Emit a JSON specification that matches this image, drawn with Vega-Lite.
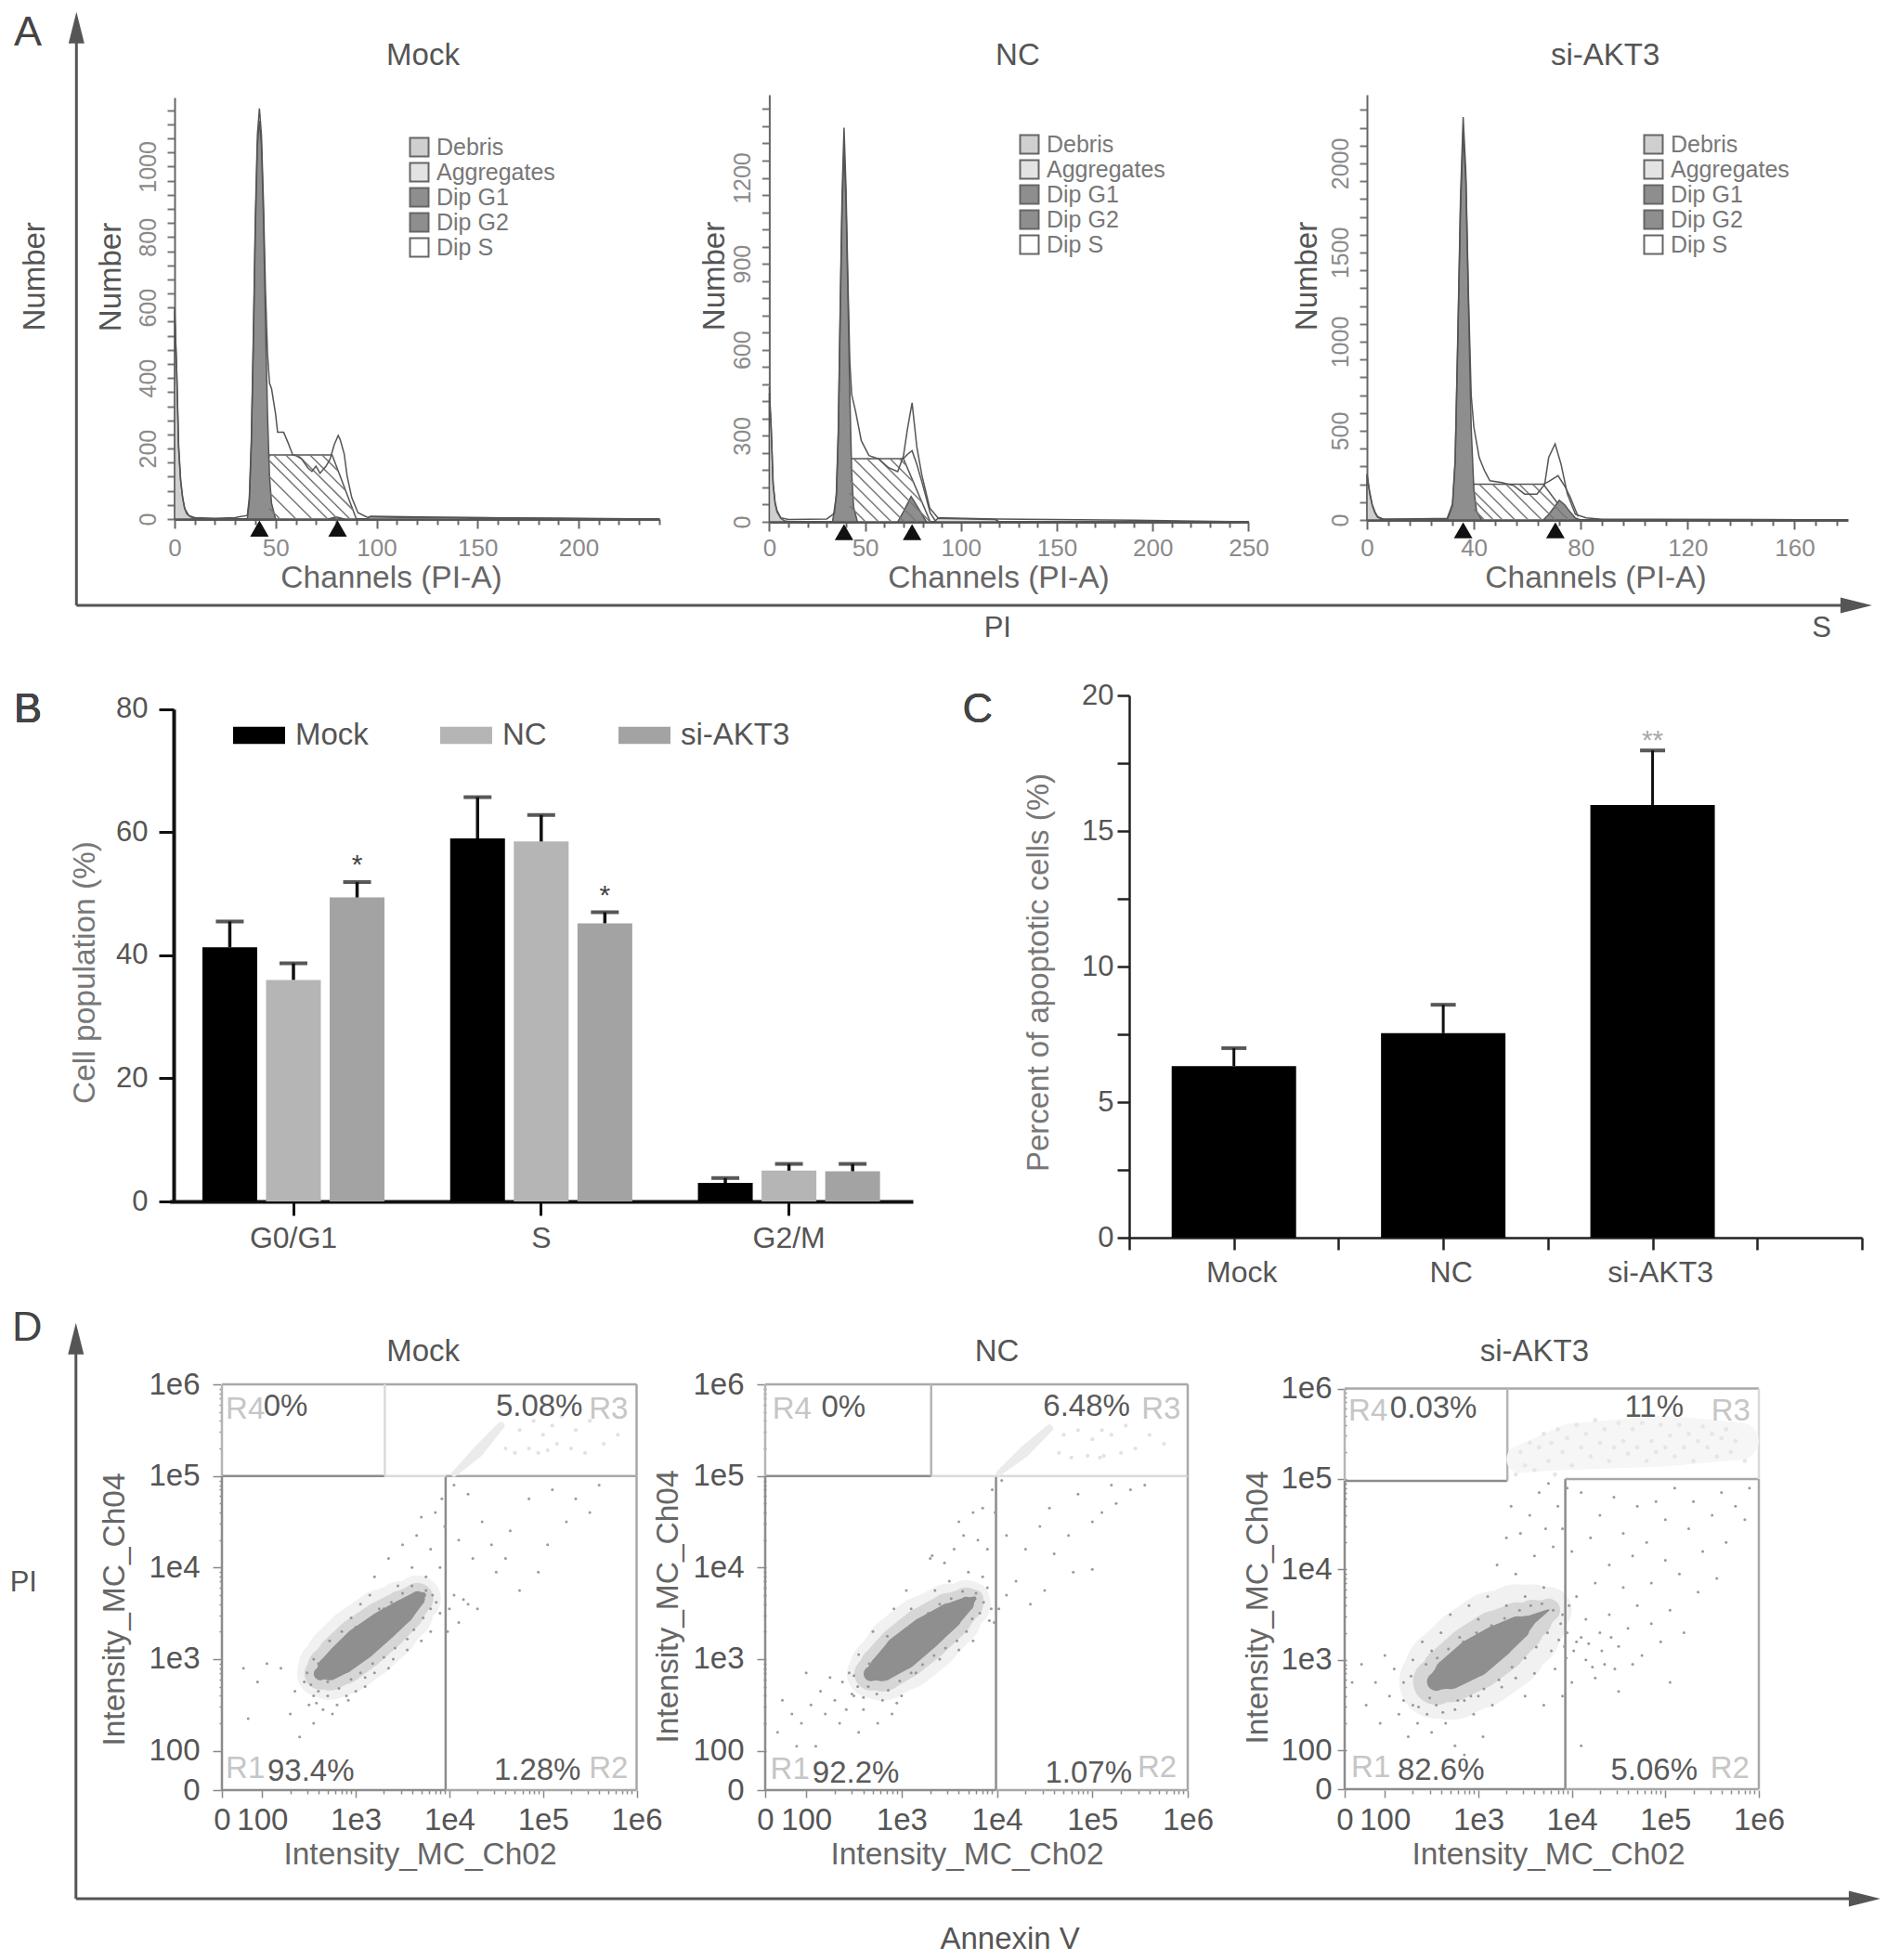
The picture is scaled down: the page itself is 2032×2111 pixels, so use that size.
{"$schema":"https://vega.github.io/schema/vega-lite/v6.json","background":"white","padding":0,"columns":3,"align":"none","bounds":"flush","spacing":0,"resolve":{"scale":{"color":"independent","size":"independent"},"legend":{"color":"independent","size":"independent"}},"config":{"view":{"stroke":null},"font":"Liberation Sans","axis":{"grid":false,"labelFont":"Liberation Sans","titleFont":"Liberation Sans","labelFlush":false,"labelBound":false},"legend":{"labelFont":"Liberation Sans"}},"concat":[
{"width":825,"height":559,"data":{"values":[{"annotation":"A"}]},"layer":[
{"data":{"values":[{"channel":37,"number":0,"population":"Dip S"},{"channel":47,"number":182,"population":"Dip S"},{"channel":78,"number":182,"population":"Dip S"},{"channel":90,"number":0,"population":"Dip S"},{"channel":76,"number":0,"population":"Dip G2"},{"channel":80,"number":6,"population":"Dip G2"},{"channel":84,"number":0,"population":"Dip G2"},{"channel":0,"number":590,"population":"Debris"},{"channel":1,"number":430,"population":"Debris"},{"channel":2,"number":200,"population":"Debris"},{"channel":3,"number":110,"population":"Debris"},{"channel":4,"number":60,"population":"Debris"},{"channel":5,"number":30,"population":"Debris"},{"channel":6,"number":15,"population":"Debris"},{"channel":8,"number":6,"population":"Debris"},{"channel":12,"number":0,"population":"Debris"},{"channel":95,"number":0,"population":"Aggregates"},{"channel":97,"number":8,"population":"Aggregates"},{"channel":130,"number":5,"population":"Aggregates"},{"channel":180,"number":2,"population":"Aggregates"},{"channel":220,"number":0,"population":"Aggregates"},{"channel":36,"number":0,"population":"Dip G1"},{"channel":37,"number":50,"population":"Dip G1"},{"channel":38,"number":210,"population":"Dip G1"},{"channel":39,"number":500,"population":"Dip G1"},{"channel":40,"number":830,"population":"Dip G1"},{"channel":41,"number":1060,"population":"Dip G1"},{"channel":42,"number":1130,"population":"Dip G1"},{"channel":43,"number":1060,"population":"Dip G1"},{"channel":44,"number":860,"population":"Dip G1"},{"channel":45,"number":560,"population":"Dip G1"},{"channel":46,"number":300,"population":"Dip G1"},{"channel":47,"number":120,"population":"Dip G1"},{"channel":48,"number":45,"population":"Dip G1"},{"channel":50,"number":0,"population":"Dip G1"}]},"mark":{"type":"area","stroke":"#555","strokeWidth":1.5},"encoding":{"x":{"field":"channel","type":"quantitative","scale":{"domain":[0,240],"range":[188,710],"nice":false,"zero":false},"axis":{"labelOverlap":false,"tickCount":200,"format":"d","values":[0,10,20,30,40,50,60,70,80,90,100,110,120,130,140,150,160,170,180,190,200,210,220,230,240],"labelExpr":"datum.value%50==0&&datum.value<=200?datum.label:''","tickSize":{"condition":{"test":"datum.value%50==0","value":10},"value":6},"tickColor":"#666","tickWidth":2,"domainColor":"#555","domainWidth":3,"labelFontSize":26,"labelColor":"#8a8a8a","labelPadding":8,"title":"Channels (PI-A)","titleFontSize":33.5,"titleFontWeight":"normal","titleColor":"#666","titleX":421,"titleY":63,"titleAlign":"center","titleBaseline":"middle"}},"y":{"field":"number","type":"quantitative","stack":null,"scale":{"domain":[0,1196],"range":[559,105],"nice":false,"zero":false},"axis":{"labelOverlap":false,"tickCount":200,"format":"d","offset":-188,"values":[0,40,80,120,160,200,240,280,320,360,400,440,480,520,560,600,640,680,720,760,800,840,880,920,960,1000,1040,1080,1120,1160],"labelExpr":"datum.value%200==0&&datum.value<=1000?datum.label:''","tickSize":8,"tickColor":"#777","tickWidth":2,"domainColor":"#666","domainWidth":2,"labelFontSize":25,"labelColor":"#8a8a8a","labelAngle":270,"labelAlign":"center","labelBaseline":"bottom","labelPadding":8,"title":"Number","titleFontSize":33,"titleFontWeight":"normal","titleColor":"#555","titleX":-69,"titleY":298,"titleAlign":"center","titleBaseline":"middle","titleAngle":270}},"color":{"field":"population","type":"nominal","scale":{"domain":["Debris","Aggregates","Dip G1","Dip G2","Dip S"],"range":["#cfcfcf","#e3e3e3","#8e8e8e","#8e8e8e","#ffffff"]},"legend":{"orient":"none","legendX":439,"legendY":146,"title":null,"symbolType":"square","symbolSize":400,"symbolStrokeColor":"#666","symbolStrokeWidth":2,"labelFontSize":21,"labelColor":"#777","rowPadding":-11.5,"labelOffset":6,"encode":{"labels":{"update":{"fontSize":{"value":25}}}}}}}},
{"data":{"values":[{"channel":47,"number":165,"channelEnd":75.8,"numberEnd":0},{"channel":47,"number":120,"channelEnd":68,"numberEnd":0},{"channel":47,"number":75,"channelEnd":60.1,"numberEnd":0},{"channel":47,"number":30,"channelEnd":52.2,"numberEnd":0},{"channel":49,"number":182,"channelEnd":80.8,"numberEnd":0},{"channel":55,"number":182,"channelEnd":86.8,"numberEnd":0},{"channel":61,"number":182,"channelEnd":88.3,"numberEnd":26},{"channel":67,"number":182,"channelEnd":84.6,"numberEnd":81},{"channel":73,"number":182,"channelEnd":81,"numberEnd":136}]},"mark":{"type":"rule","stroke":"#777","strokeWidth":1.5},"encoding":{"x":{"field":"channel","type":"quantitative"},"y":{"field":"number","type":"quantitative"},"x2":{"field":"channelEnd"},"y2":{"field":"numberEnd"}}},
{"data":{"values":[{"channel":0,"number":600},{"channel":1,"number":430},{"channel":2,"number":210},{"channel":3,"number":110},{"channel":4,"number":60},{"channel":5,"number":30},{"channel":7,"number":10},{"channel":10,"number":4},{"channel":20,"number":2},{"channel":30,"number":4},{"channel":36,"number":10},{"channel":37,"number":60},{"channel":38,"number":225},{"channel":39,"number":520},{"channel":40,"number":860},{"channel":41,"number":1090},{"channel":42,"number":1165},{"channel":43,"number":1090},{"channel":44,"number":900},{"channel":45,"number":650},{"channel":46,"number":470},{"channel":47,"number":385},{"channel":48,"number":370},{"channel":50,"number":298},{"channel":51,"number":246},{"channel":54,"number":246},{"channel":56,"number":219},{"channel":58.5,"number":182},{"channel":60,"number":180},{"channel":63,"number":170},{"channel":66,"number":145},{"channel":68,"number":135},{"channel":70,"number":150},{"channel":72,"number":130},{"channel":75,"number":150},{"channel":77,"number":170},{"channel":79,"number":210},{"channel":81,"number":237},{"channel":82,"number":225},{"channel":84,"number":184},{"channel":85.4,"number":123},{"channel":87.7,"number":61},{"channel":90.8,"number":18},{"channel":95,"number":6},{"channel":120,"number":4},{"channel":150,"number":4},{"channel":200,"number":2},{"channel":240,"number":0}]},"mark":{"type":"line","stroke":"#555","strokeWidth":1.5},"encoding":{"x":{"field":"channel","type":"quantitative"},"y":{"field":"number","type":"quantitative"}}},
{"data":{"values":[{"channel":42},{"channel":80.7}]},"mark":{"type":"point","shape":"triangle-up","filled":true,"size":400,"color":"#111","opacity":1},"encoding":{"x":{"field":"channel","type":"quantitative"},"y":{"datum":-27}}},
{"mark":{"type":"rule","stroke":"#555","strokeWidth":3},"encoding":{"x":{"datum":-48.6},"y":{"datum":-245},"y2":{"datum":1394}}},
{"mark":{"type":"rule","stroke":"#555","strokeWidth":3},"encoding":{"x":{"datum":-48.6},"x2":{"datum":832},"y":{"datum":-245}}},
{"mark":{"type":"point","shape":"M0,-1L-0.5,1L0.5,1Z","filled":true,"size":1156,"color":"#555","opacity":1},"encoding":{"x":{"datum":-48.6},"y":{"datum":1394}}},
{"mark":{"type":"point","shape":"M1,0L-1,-0.5L-1,0.5Z","filled":true,"size":1156,"color":"#555","opacity":1},"encoding":{"x":{"datum":832.6},"y":{"datum":-245}}},
{"mark":{"type":"text","text":"A","fontSize":45,"color":"#444"},"encoding":{"x":{"datum":-72.6},"y":{"datum":1380}}},
{"mark":{"type":"text","text":"Number","fontSize":33,"color":"#555","angle":270},"encoding":{"x":{"datum":-68.8},"y":{"datum":688}}},
{"mark":{"type":"text","text":"Mock","fontSize":33,"color":"#555"},"encoding":{"x":{"datum":123},"y":{"datum":1314}}},
{"mark":{"type":"text","text":"PI","fontSize":31,"color":"#555"},"encoding":{"x":{"datum":407.5},"y":{"datum":-312}}},
{"mark":{"type":"text","text":"S","fontSize":31,"color":"#555"},"encoding":{"x":{"datum":815.5},"y":{"datum":-312}}}
]},
{"width":625,"height":562,"data":{"values":[{"annotation":"NC"}]},"layer":[
{"data":{"values":[{"channel":33,"number":0,"population":"Dip S"},{"channel":42,"number":220,"population":"Dip S"},{"channel":70,"number":220,"population":"Dip S"},{"channel":84,"number":0,"population":"Dip S"},{"channel":67,"number":0,"population":"Dip G2"},{"channel":70,"number":35,"population":"Dip G2"},{"channel":74,"number":88,"population":"Dip G2"},{"channel":78,"number":45,"population":"Dip G2"},{"channel":82,"number":0,"population":"Dip G2"},{"channel":0,"number":450,"population":"Debris"},{"channel":1,"number":320,"population":"Debris"},{"channel":2,"number":130,"population":"Debris"},{"channel":3,"number":65,"population":"Debris"},{"channel":4,"number":35,"population":"Debris"},{"channel":6,"number":12,"population":"Debris"},{"channel":8,"number":3,"population":"Debris"},{"channel":11,"number":0,"population":"Debris"},{"channel":86,"number":0,"population":"Aggregates"},{"channel":88,"number":12,"population":"Aggregates"},{"channel":118,"number":8,"population":"Aggregates"},{"channel":120,"number":0,"population":"Aggregates"},{"channel":33,"number":0,"population":"Dip G1"},{"channel":35,"number":90,"population":"Dip G1"},{"channel":36,"number":300,"population":"Dip G1"},{"channel":37,"number":720,"population":"Dip G1"},{"channel":38,"number":1100,"population":"Dip G1"},{"channel":39,"number":1300,"population":"Dip G1"},{"channel":40,"number":1120,"population":"Dip G1"},{"channel":41,"number":800,"population":"Dip G1"},{"channel":42,"number":450,"population":"Dip G1"},{"channel":43,"number":170,"population":"Dip G1"},{"channel":44,"number":50,"population":"Dip G1"},{"channel":46,"number":0,"population":"Dip G1"}]},"mark":{"type":"area","stroke":"#555","strokeWidth":1.5},"encoding":{"x":{"field":"channel","type":"quantitative","scale":{"domain":[0,250],"range":[3.4,519.4],"nice":false,"zero":false},"axis":{"labelOverlap":false,"tickCount":200,"format":"d","values":[0,10,20,30,40,50,60,70,80,90,100,110,120,130,140,150,160,170,180,190,200,210,220,230,240,250],"labelExpr":"datum.value%50==0?datum.label:''","tickSize":{"condition":{"test":"datum.value%50==0","value":10},"value":6},"tickColor":"#666","tickWidth":2,"domainColor":"#555","domainWidth":3,"labelFontSize":26,"labelColor":"#8a8a8a","labelPadding":5,"title":"Channels (PI-A)","titleFontSize":33.5,"titleFontWeight":"normal","titleColor":"#666","titleX":250,"titleY":60,"titleAlign":"center","titleBaseline":"middle"}},"y":{"field":"number","type":"quantitative","stack":null,"scale":{"domain":[0,1490],"range":[562,102],"nice":false,"zero":false},"axis":{"labelOverlap":false,"tickCount":200,"format":"d","offset":-3.4,"values":[0,60,120,180,240,300,360,420,480,540,600,660,720,780,840,900,960,1020,1080,1140,1200,1260,1320,1380,1440],"labelExpr":"datum.value%300==0?datum.label:''","tickSize":8,"tickColor":"#777","tickWidth":2,"domainColor":"#666","domainWidth":2,"labelFontSize":25,"labelColor":"#8a8a8a","labelAngle":270,"labelAlign":"center","labelBaseline":"bottom","labelPadding":8,"title":"Number","titleFontSize":33,"titleFontWeight":"normal","titleColor":"#555","titleX":-59,"titleY":297,"titleAlign":"center","titleBaseline":"middle","titleAngle":270}},"color":{"field":"population","type":"nominal","scale":{"domain":["Debris","Aggregates","Dip G1","Dip G2","Dip S"],"range":["#cfcfcf","#e3e3e3","#8e8e8e","#8e8e8e","#ffffff"]},"legend":{"orient":"none","legendX":271,"legendY":143,"title":null,"symbolType":"square","symbolSize":400,"symbolStrokeColor":"#666","symbolStrokeWidth":2,"labelFontSize":21,"labelColor":"#777","rowPadding":-11.5,"labelOffset":6,"encode":{"labels":{"update":{"fontSize":{"value":25}}}}}}}},
{"data":{"values":[{"channel":42,"number":190,"channelEnd":70.4,"numberEnd":0},{"channel":42,"number":145,"channelEnd":63.7,"numberEnd":0},{"channel":42,"number":100,"channelEnd":57,"numberEnd":0},{"channel":42,"number":55,"channelEnd":50.2,"numberEnd":0},{"channel":44,"number":220,"channelEnd":76.9,"numberEnd":0},{"channel":51,"number":220,"channelEnd":83.9,"numberEnd":0},{"channel":57,"number":220,"channelEnd":79.6,"numberEnd":69},{"channel":63,"number":220,"channelEnd":75.1,"numberEnd":139},{"channel":68,"number":220,"channelEnd":71.4,"numberEnd":197}]},"mark":{"type":"rule","stroke":"#777","strokeWidth":1.5},"encoding":{"x":{"field":"channel","type":"quantitative"},"y":{"field":"number","type":"quantitative"},"x2":{"field":"channelEnd"},"y2":{"field":"numberEnd"}}},
{"data":{"values":[{"channel":0,"number":470,"trace":"Observed"},{"channel":1,"number":330,"trace":"Observed"},{"channel":2,"number":135,"trace":"Observed"},{"channel":3,"number":70,"trace":"Observed"},{"channel":4,"number":40,"trace":"Observed"},{"channel":6,"number":14,"trace":"Observed"},{"channel":10,"number":8,"trace":"Observed"},{"channel":30,"number":10,"trace":"Observed"},{"channel":34,"number":30,"trace":"Observed"},{"channel":35,"number":100,"trace":"Observed"},{"channel":36,"number":320,"trace":"Observed"},{"channel":37,"number":750,"trace":"Observed"},{"channel":38,"number":1150,"trace":"Observed"},{"channel":39,"number":1375,"trace":"Observed"},{"channel":40,"number":1170,"trace":"Observed"},{"channel":41,"number":850,"trace":"Observed"},{"channel":42,"number":560,"trace":"Observed"},{"channel":43,"number":443,"trace":"Observed"},{"channel":45,"number":386,"trace":"Observed"},{"channel":48,"number":283,"trace":"Observed"},{"channel":52,"number":231,"trace":"Observed"},{"channel":57,"number":220,"trace":"Observed"},{"channel":62,"number":190,"trace":"Observed"},{"channel":67,"number":175,"trace":"Observed"},{"channel":70,"number":230,"trace":"Observed"},{"channel":72,"number":320,"trace":"Observed"},{"channel":74.5,"number":415,"trace":"Observed"},{"channel":77,"number":260,"trace":"Observed"},{"channel":79.6,"number":163,"trace":"Observed"},{"channel":83.7,"number":48,"trace":"Observed"},{"channel":88,"number":14,"trace":"Observed"},{"channel":118,"number":10,"trace":"Observed"},{"channel":190,"number":6,"trace":"Observed"},{"channel":250,"number":0,"trace":"Observed"},{"channel":70,"number":220,"trace":"Fit"},{"channel":72,"number":235,"trace":"Fit"},{"channel":74.5,"number":248,"trace":"Fit"},{"channel":77,"number":200,"trace":"Fit"},{"channel":80,"number":130,"trace":"Fit"},{"channel":84,"number":30,"trace":"Fit"},{"channel":87,"number":0,"trace":"Fit"}]},"mark":{"type":"line","stroke":"#555","strokeWidth":1.5},"encoding":{"x":{"field":"channel","type":"quantitative"},"y":{"field":"number","type":"quantitative"},"detail":{"field":"trace"}}},
{"data":{"values":[{"channel":39},{"channel":74.5}]},"mark":{"type":"point","shape":"triangle-up","filled":true,"size":400,"color":"#111","opacity":1},"encoding":{"x":{"field":"channel","type":"quantitative"},"y":{"datum":-36}}},
{"mark":{"type":"text","text":"NC","fontSize":33,"color":"#555"},"encoding":{"x":{"datum":129.6},"y":{"datum":1627}}}
]},
{"width":500,"height":560,"data":{"values":[{"annotation":"si-AKT3"}]},"layer":[
{"data":{"values":[{"channel":34,"number":0,"population":"Dip S"},{"channel":40,"number":200,"population":"Dip S"},{"channel":66,"number":200,"population":"Dip S"},{"channel":76,"number":0,"population":"Dip S"},{"channel":66,"number":0,"population":"Dip G2"},{"channel":68,"number":30,"population":"Dip G2"},{"channel":70,"number":70,"population":"Dip G2"},{"channel":72,"number":110,"population":"Dip G2"},{"channel":74,"number":85,"population":"Dip G2"},{"channel":76,"number":45,"population":"Dip G2"},{"channel":78,"number":10,"population":"Dip G2"},{"channel":80,"number":0,"population":"Dip G2"},{"channel":0,"number":250,"population":"Debris"},{"channel":1,"number":150,"population":"Debris"},{"channel":2,"number":80,"population":"Debris"},{"channel":3,"number":40,"population":"Debris"},{"channel":4,"number":15,"population":"Debris"},{"channel":6,"number":3,"population":"Debris"},{"channel":8,"number":0,"population":"Debris"},{"channel":30,"number":0,"population":"Dip G1"},{"channel":32,"number":80,"population":"Dip G1"},{"channel":33,"number":320,"population":"Dip G1"},{"channel":34,"number":1000,"population":"Dip G1"},{"channel":35,"number":1750,"population":"Dip G1"},{"channel":36,"number":2175,"population":"Dip G1"},{"channel":37,"number":1900,"population":"Dip G1"},{"channel":38,"number":1200,"population":"Dip G1"},{"channel":39,"number":520,"population":"Dip G1"},{"channel":40,"number":170,"population":"Dip G1"},{"channel":41,"number":50,"population":"Dip G1"},{"channel":43,"number":0,"population":"Dip G1"}]},"mark":{"type":"area","stroke":"#555","strokeWidth":1.5},"encoding":{"x":{"field":"channel","type":"quantitative","scale":{"domain":[0,180],"range":[22,540],"nice":false,"zero":false},"axis":{"labelOverlap":false,"tickCount":200,"format":"d","values":[0,8,16,24,32,40,48,56,64,72,80,88,96,104,112,120,128,136,144,152,160,168,176],"labelExpr":"datum.value%40==0?datum.label:''","tickSize":{"condition":{"test":"datum.value%40==0","value":10},"value":6},"tickColor":"#666","tickWidth":2,"domainColor":"#555","domainWidth":3,"labelFontSize":26,"labelColor":"#8a8a8a","labelPadding":7,"title":"Channels (PI-A)","titleFontSize":33.5,"titleFontWeight":"normal","titleColor":"#666","titleX":268,"titleY":62,"titleAlign":"center","titleBaseline":"middle"}},"y":{"field":"number","type":"quantitative","stack":null,"scale":{"domain":[0,2385],"range":[560,102],"nice":false,"zero":false},"axis":{"labelOverlap":false,"tickCount":200,"format":"d","offset":-22,"values":[0,100,200,300,400,500,600,700,800,900,1000,1100,1200,1300,1400,1500,1600,1700,1800,1900,2000,2100,2200,2300],"labelExpr":"datum.value%500==0?datum.label:''","tickSize":8,"tickColor":"#777","tickWidth":2,"domainColor":"#666","domainWidth":2,"labelFontSize":25,"labelColor":"#8a8a8a","labelAngle":270,"labelAlign":"center","labelBaseline":"bottom","labelPadding":8,"title":"Number","titleFontSize":33,"titleFontWeight":"normal","titleColor":"#555","titleX":-65,"titleY":297,"titleAlign":"center","titleBaseline":"middle","titleAngle":270}},"color":{"field":"population","type":"nominal","scale":{"domain":["Debris","Aggregates","Dip G1","Dip G2","Dip S"],"range":["#cfcfcf","#e3e3e3","#8e8e8e","#8e8e8e","#ffffff"]},"legend":{"orient":"none","legendX":318,"legendY":143,"title":null,"symbolType":"square","symbolSize":400,"symbolStrokeColor":"#666","symbolStrokeWidth":2,"labelFontSize":21,"labelColor":"#777","rowPadding":-11.5,"labelOffset":6,"encode":{"labels":{"update":{"fontSize":{"value":25}}}}}}}},
{"data":{"values":[{"channel":40,"number":160,"channelEnd":50.7,"numberEnd":0},{"channel":40,"number":110,"channelEnd":47.3,"numberEnd":0},{"channel":40,"number":60,"channelEnd":44,"numberEnd":0},{"channel":42,"number":200,"channelEnd":55.4,"numberEnd":0},{"channel":47,"number":200,"channelEnd":60.4,"numberEnd":0},{"channel":52,"number":200,"channelEnd":65.4,"numberEnd":0},{"channel":57,"number":200,"channelEnd":70.4,"numberEnd":0},{"channel":62,"number":200,"channelEnd":75.4,"numberEnd":0}]},"mark":{"type":"rule","stroke":"#777","strokeWidth":1.5},"encoding":{"x":{"field":"channel","type":"quantitative"},"y":{"field":"number","type":"quantitative"},"x2":{"field":"channelEnd"},"y2":{"field":"numberEnd"}}},
{"data":{"values":[{"channel":0,"number":260,"trace":"Observed"},{"channel":1,"number":160,"trace":"Observed"},{"channel":2,"number":85,"trace":"Observed"},{"channel":3,"number":45,"trace":"Observed"},{"channel":4,"number":18,"trace":"Observed"},{"channel":6,"number":5,"trace":"Observed"},{"channel":26,"number":8,"trace":"Observed"},{"channel":30,"number":8,"trace":"Observed"},{"channel":32,"number":90,"trace":"Observed"},{"channel":33,"number":340,"trace":"Observed"},{"channel":34,"number":1040,"trace":"Observed"},{"channel":35,"number":1800,"trace":"Observed"},{"channel":36,"number":2260,"trace":"Observed"},{"channel":37,"number":1950,"trace":"Observed"},{"channel":38,"number":1250,"trace":"Observed"},{"channel":39,"number":700,"trace":"Observed"},{"channel":40,"number":520,"trace":"Observed"},{"channel":42,"number":350,"trace":"Observed"},{"channel":44,"number":276,"trace":"Observed"},{"channel":46,"number":220,"trace":"Observed"},{"channel":50.5,"number":210,"trace":"Observed"},{"channel":55,"number":192,"trace":"Observed"},{"channel":59,"number":145,"trace":"Observed"},{"channel":63.6,"number":145,"trace":"Observed"},{"channel":66.5,"number":200,"trace":"Observed"},{"channel":68,"number":350,"trace":"Observed"},{"channel":70.4,"number":427,"trace":"Observed"},{"channel":72.6,"number":314,"trace":"Observed"},{"channel":75,"number":145,"trace":"Observed"},{"channel":78,"number":32,"trace":"Observed"},{"channel":82,"number":12,"trace":"Observed"},{"channel":88,"number":4,"trace":"Observed"},{"channel":146,"number":2,"trace":"Observed"},{"channel":178,"number":0,"trace":"Observed"},{"channel":66,"number":200,"trace":"Fit"},{"channel":68,"number":215,"trace":"Fit"},{"channel":71.5,"number":248,"trace":"Fit"},{"channel":74,"number":190,"trace":"Fit"},{"channel":76,"number":130,"trace":"Fit"},{"channel":79,"number":20,"trace":"Fit"}]},"mark":{"type":"line","stroke":"#555","strokeWidth":1.5},"encoding":{"x":{"field":"channel","type":"quantitative"},"y":{"field":"number","type":"quantitative"},"detail":{"field":"trace"}}},
{"data":{"values":[{"channel":36},{"channel":70.5}]},"mark":{"type":"point","shape":"triangle-up","filled":true,"size":400,"color":"#111","opacity":1},"encoding":{"x":{"field":"channel","type":"quantitative"},"y":{"datum":-58}}},
{"mark":{"type":"text","text":"si-AKT3","fontSize":33,"color":"#555"},"encoding":{"x":{"datum":89.2},"y":{"datum":2604}}}
]},
{"width":825,"height":732,"data":{"values":[{"phase":"G0/G1","group":"Mock","percent":41.3,"upper":45.5},{"phase":"G0/G1","group":"NC","percent":36,"upper":38.7},{"phase":"G0/G1","group":"si-AKT3","percent":49.4,"upper":51.9,"star":"*"},{"phase":"S","group":"Mock","percent":59,"upper":65.7},{"phase":"S","group":"NC","percent":58.5,"upper":62.8},{"phase":"S","group":"si-AKT3","percent":45.2,"upper":47,"star":"*"},{"phase":"G2/M","group":"Mock","percent":3,"upper":3.8},{"phase":"G2/M","group":"NC","percent":5,"upper":6.1},{"phase":"G2/M","group":"si-AKT3","percent":4.9,"upper":6.1}]},"layer":[
{"mark":{"type":"bar"},"encoding":{"x":{"field":"phase","type":"nominal","sort":["G0/G1","S","G2/M"],"scale":{"range":[182.6,983],"paddingInner":0.265,"paddingOuter":0.1325},"axis":{"title":null,"labelAngle":0,"labelFontSize":32,"labelColor":"#555","labelPadding":9,"tickSize":15,"tickWidth":3,"tickColor":"#111","domainColor":"#111","domainWidth":4}},"xOffset":{"field":"group","type":"nominal","sort":["Mock","NC","si-AKT3"],"scale":{"paddingInner":0.139,"paddingOuter":0}},"y":{"field":"percent","type":"quantitative","scale":{"domain":[0,80],"range":[732,201.8],"nice":false},"axis":{"offset":-187,"values":[0,20,40,60,80],"tickSize":16,"tickWidth":3,"tickColor":"#111","domainColor":"#111","domainWidth":4,"labelFontSize":31,"labelColor":"#555","labelPadding":12,"title":"Cell population (%)","titleFontSize":33.5,"titleFontWeight":"normal","titleColor":"#777","titleX":-96,"titleY":485,"titleAlign":"center","titleBaseline":"middle","titleAngle":270}},"color":{"field":"group","type":"nominal","sort":["Mock","NC","si-AKT3"],"scale":{"domain":["Mock","NC","si-AKT3"],"range":["#000000","#b5b5b5","#a3a3a3"]},"legend":{"orient":"none","direction":"horizontal","columns":3,"legendX":250,"legendY":201,"title":null,"symbolType":"M-1,-0.33H1V0.33H-1Z","symbolSize":3136,"labelFontSize":33,"labelColor":"#555","columnPadding":76,"labelOffset":10}}}},
{"mark":{"type":"rule","color":"#111","strokeWidth":3.5},"encoding":{"x":{"field":"phase","type":"nominal","sort":["G0/G1","S","G2/M"]},"xOffset":{"field":"group","type":"nominal","sort":["Mock","NC","si-AKT3"]},"y":{"field":"percent","type":"quantitative"},"y2":{"field":"upper"}}},
{"mark":{"type":"tick","color":"#111","thickness":4,"size":30},"encoding":{"x":{"field":"phase","type":"nominal","sort":["G0/G1","S","G2/M"]},"xOffset":{"field":"group","type":"nominal","sort":["Mock","NC","si-AKT3"]},"y":{"field":"upper","type":"quantitative"}}},
{"transform":[{"filter":"datum.star"}],"mark":{"type":"text","fontSize":30,"color":"#444","dy":-18},"encoding":{"x":{"field":"phase","type":"nominal","sort":["G0/G1","S","G2/M"]},"xOffset":{"field":"group","type":"nominal","sort":["Mock","NC","si-AKT3"]},"y":{"field":"upper","type":"quantitative"},"text":{"field":"star"}}},
{"mark":{"type":"text","text":"B","fontSize":45,"color":"#444","dx":-286},"encoding":{"x":{"datum":"G0/G1"},"y":{"datum":79.9}}}
]},
{"width":625,"height":771,"data":{"values":[{"group":"Mock","percent":6.33,"upper":6.99},{"group":"NC","percent":7.54,"upper":8.59},{"group":"si-AKT3","percent":15.96,"upper":17.97,"star":"**"}]},"layer":[
{"mark":{"type":"bar","size":134,"color":"#000000"},"encoding":{"x":{"field":"group","type":"ordinal","scale":{"type":"point","domain":[" ","Mock","  ","NC","   ","si-AKT3","    ","     "],"range":[391,1180],"padding":0},"axis":{"title":null,"labelAngle":0,"labelFontSize":32,"labelColor":"#555","labelPadding":9,"labelOffset":8,"tickSize":13,"tickWidth":2.5,"tickColor":"#222","domainColor":"#222","domainWidth":2.5}},"y":{"field":"percent","type":"quantitative","scale":{"domain":[0,20],"range":[771,187],"nice":false},"axis":{"offset":-391,"values":[0,2.5,5,7.5,10,12.5,15,17.5,20],"labelExpr":"datum.value%5==0?format(datum.value,'d'):''","tickSize":13,"tickWidth":2.5,"tickColor":"#222","domainColor":"#222","domainWidth":2.5,"labelFontSize":31,"labelColor":"#555","labelPadding":4,"title":"Percent of apoptotic cells (%)","titleFontSize":33,"titleFontWeight":"normal","titleColor":"#777","titleX":-98,"titleY":485,"titleAlign":"center","titleBaseline":"middle","titleAngle":270}}}},
{"mark":{"type":"rule","color":"#111","strokeWidth":3},"encoding":{"x":{"field":"group","type":"ordinal"},"y":{"field":"percent","type":"quantitative"},"y2":{"field":"upper"}}},
{"mark":{"type":"tick","color":"#111","thickness":4,"size":27},"encoding":{"x":{"field":"group","type":"ordinal"},"y":{"field":"upper","type":"quantitative"}}},
{"transform":[{"filter":"datum.star"}],"mark":{"type":"text","fontSize":30,"color":"#aaa","dy":-10},"encoding":{"x":{"field":"group","type":"ordinal"},"y":{"field":"upper","type":"quantitative"},"text":{"field":"star"}}},
{"mark":{"type":"text","text":"C","fontSize":45,"color":"#444","dx":-276},"encoding":{"x":{"datum":"Mock"},"y":{"datum":19.5}}}
]},
{"width":1,"height":1,"data":{"values":[{"blank":""}]},"mark":{"type":"point","opacity":0},"encoding":{}},
{"width":825,"height":595,"data":{"values":[{"annotation":"D"}]},"resolve":{"scale":{"color":"independent","size":"independent"}},"layer":[
{"data":{"values":[{"x":1.57,"y":1.57,"xEnd":1.57,"yEnd":5,"region":"R1"},{"x":1.57,"y":1.57,"xEnd":3.96,"yEnd":1.57,"region":"R1"},{"x":1.57,"y":5,"xEnd":3.31,"yEnd":5,"region":"R1"},{"x":3.96,"y":1.57,"xEnd":3.96,"yEnd":5,"region":"R1"},{"x":6,"y":1.57,"xEnd":6,"yEnd":5,"region":"R2"},{"x":3.96,"y":1.57,"xEnd":6,"yEnd":1.57,"region":"R2"},{"x":3.96,"y":5,"xEnd":6,"yEnd":5,"region":"R2"},{"x":3.31,"y":6,"xEnd":6,"yEnd":6,"region":"R2"},{"x":6,"y":5,"xEnd":6,"yEnd":6,"region":"R2"},{"x":3.31,"y":5,"xEnd":3.96,"yEnd":5,"region":"R3"},{"x":1.57,"y":6,"xEnd":3.31,"yEnd":6,"region":"R2"},{"x":1.57,"y":5,"xEnd":1.57,"yEnd":6,"region":"R4"},{"x":3.31,"y":5,"xEnd":3.31,"yEnd":6,"region":"R3"}]},"mark":{"type":"rule","strokeWidth":2.5},"encoding":{"x":{"field":"x","type":"quantitative","scale":{"domain":[1.57,6],"range":[239,685.5],"nice":false,"zero":false},"axis":{"labelOverlap":false,"tickCount":200,"values":[1.57,2,2.3,2.48,2.6,2.7,2.78,2.85,2.9,2.95,3,3.3,3.48,3.6,3.7,3.78,3.85,3.9,3.95,4,4.3,4.48,4.6,4.7,4.78,4.85,4.9,4.95,5,5.3,5.48,5.6,5.7,5.78,5.85,5.9,5.95,6],"labelExpr":"datum.value==1.57?'0':datum.value==2?'100':datum.value==3?'1e3':datum.value==4?'1e4':datum.value==5?'1e5':datum.value==6?'1e6':''","tickSize":{"condition":{"test":"datum.value%1==0||datum.value==1.57","value":8},"value":4},"tickColor":"#888","tickWidth":1.5,"domain":false,"labelFontSize":33,"labelColor":"#555","labelPadding":8,"title":"Intensity_MC_Ch02","titleFontSize":33.5,"titleFontWeight":"normal","titleColor":"#666","titleX":452,"titleY":69,"titleAlign":"center","titleBaseline":"middle"}},"y":{"field":"y","type":"quantitative","scale":{"domain":[1.57,6],"range":[595,158],"nice":false,"zero":false},"axis":{"labelOverlap":false,"tickCount":200,"offset":-239,"values":[1.57,2,2.3,2.48,2.6,2.7,2.78,2.85,2.9,2.95,3,3.3,3.48,3.6,3.7,3.78,3.85,3.9,3.95,4,4.3,4.48,4.6,4.7,4.78,4.85,4.9,4.95,5,5.3,5.48,5.6,5.7,5.78,5.85,5.9,5.95,6],"labelExpr":"datum.value==1.57?'0':datum.value==2?'100':datum.value==3?'1e3':datum.value==4?'1e4':datum.value==5?'1e5':datum.value==6?'1e6':''","tickSize":{"condition":{"test":"datum.value%1==0||datum.value==1.57","value":10},"value":3},"tickColor":"#888","tickWidth":1.5,"domain":false,"labelFontSize":33,"labelColor":"#555","labelPadding":14,"title":"Intensity_MC_Ch04","titleFontSize":33.5,"titleFontWeight":"normal","titleColor":"#666","titleX":-116,"titleY":400,"titleAlign":"center","titleBaseline":"middle","titleAngle":270}},"x2":{"field":"xEnd"},"y2":{"field":"yEnd"},"color":{"field":"region","type":"nominal","scale":{"domain":["R1","R2","R3","R4"],"range":["#8c8c8c","#a8a8a8","#dadada","#b5b5b5"]},"legend":null}}},
{"data":{"values":[{"x":4.05,"y":5.02,"band":0.06},{"x":4.3,"y":5.26,"band":0.12},{"x":4.55,"y":5.55,"band":0.08}]},"mark":{"type":"trail","color":"#ebebeb"},"encoding":{"x":{"field":"x","type":"quantitative"},"y":{"field":"y","type":"quantitative"},"size":{"field":"band","type":"quantitative","scale":{"domain":[0,1],"range":[0,100]},"legend":null}}},
{"data":{"values":[{"x":4.6,"y":5.3},{"x":4.7,"y":5.25},{"x":4.75,"y":5.5},{"x":4.85,"y":5.3},{"x":4.9,"y":5.6},{"x":4.95,"y":5.25},{"x":5.0,"y":5.45},{"x":5.05,"y":5.28},{"x":5.1,"y":5.55},{"x":5.15,"y":5.35},{"x":5.2,"y":5.65},{"x":5.3,"y":5.3},{"x":5.35,"y":5.5},{"x":5.45,"y":5.25},{"x":5.5,"y":5.6},{"x":5.65,"y":5.35},{"x":5.8,"y":5.45}]},"mark":{"type":"point","filled":true,"size":18,"color":"#e2e2e2","opacity":1},"encoding":{"x":{"field":"x","type":"quantitative"},"y":{"field":"y","type":"quantitative"}}},
{"data":{"values":[{"x":1.8,"y":2.9},{"x":1.95,"y":2.75},{"x":2.05,"y":2.95},{"x":1.85,"y":2.35},{"x":2.2,"y":2.9},{"x":2.35,"y":2.65},{"x":2.3,"y":2.4},{"x":2.45,"y":2.75},{"x":2.5,"y":2.5},{"x":2.55,"y":2.3},{"x":2.4,"y":2.15},{"x":2.6,"y":2.65},{"x":2.6,"y":2.85},{"x":2.55,"y":3.0},{"x":2.65,"y":2.45},{"x":2.7,"y":2.75},{"x":2.75,"y":2.4},{"x":2.72,"y":3.2},{"x":2.8,"y":2.5},{"x":2.85,"y":3.3},{"x":2.9,"y":2.6},{"x":2.95,"y":3.45},{"x":3.0,"y":2.65},{"x":3.05,"y":3.6},{"x":3.1,"y":2.8},{"x":3.15,"y":3.7},{"x":3.2,"y":3.9},{"x":3.2,"y":2.85},{"x":3.3,"y":3.55},{"x":3.35,"y":4.1},{"x":3.4,"y":3.0},{"x":3.45,"y":3.8},{"x":3.5,"y":4.25},{"x":3.55,"y":3.1},{"x":3.6,"y":4.0},{"x":3.65,"y":4.35},{"x":3.7,"y":3.2},{"x":3.7,"y":4.55},{"x":3.75,"y":3.9},{"x":3.8,"y":3.3},{"x":3.8,"y":4.2},{"x":3.85,"y":4.6},{"x":3.9,"y":3.5},{"x":3.9,"y":4.0},{"x":3.92,"y":4.75},{"x":3.95,"y":4.45},{"x":3.98,"y":3.3},{"x":4,"y":3.55},{"x":4.05,"y":3.7},{"x":4.05,"y":4.9},{"x":4.1,"y":4.3},{"x":4.1,"y":3.4},{"x":4.15,"y":3.65},{"x":4.2,"y":4.8},{"x":4.2,"y":3.6},{"x":4.25,"y":4.1},{"x":4.3,"y":3.55},{"x":4.35,"y":4.5},{"x":4.45,"y":4.25},{"x":4.5,"y":3.95},{"x":4.6,"y":4.1},{"x":4.65,"y":4.4},{"x":4.75,"y":3.75},{"x":4.85,"y":4.75},{"x":5.05,"y":4.25},{"x":5.1,"y":4.85},{"x":5.25,"y":4.5},{"x":5.35,"y":4.75},{"x":5.5,"y":4.6},{"x":5.6,"y":4.9},{"x":4.95,"y":3.95},{"x":2.55,"y":2.6},{"x":2.6,"y":2.95},{"x":2.7,"y":2.6},{"x":2.78,"y":3.12},{"x":2.82,"y":2.68},{"x":2.88,"y":3.2},{"x":2.95,"y":2.78},{"x":3.0,"y":3.35},{"x":3.05,"y":2.85},{"x":3.12,"y":3.42},{"x":3.18,"y":2.95},{"x":3.25,"y":3.55},{"x":3.3,"y":3.02},{"x":3.38,"y":3.62},{"x":3.42,"y":3.12},{"x":3.5,"y":3.72},{"x":3.55,"y":3.22},{"x":3.6,"y":3.8},{"x":3.62,"y":3.32},{"x":3.72,"y":3.45},{"x":3.75,"y":3.75},{"x":3.8,"y":3.55},{"x":3.82,"y":3.7},{"x":3.86,"y":3.62},{"x":2.48,"y":2.85},{"x":2.52,"y":2.72},{"x":2.58,"y":2.52},{"x":2.92,"y":2.55},{"x":3.1,"y":2.7},{"x":3.35,"y":2.9}]},"mark":{"type":"point","filled":true,"size":9,"color":"#9a9a9a","opacity":1},"encoding":{"x":{"field":"x","type":"quantitative"},"y":{"field":"y","type":"quantitative"}}},
{"data":{"values":[{"x":2.62,"y":2.84,"core":0.14,"halo":0.34,"fringe":0.5},{"x":2.72,"y":2.9,"core":0.26,"halo":0.48,"fringe":0.68},{"x":2.85,"y":3.0,"core":0.32,"halo":0.55,"fringe":0.78},{"x":3.05,"y":3.17,"core":0.36,"halo":0.58,"fringe":0.82},{"x":3.3,"y":3.37,"core":0.32,"halo":0.54,"fringe":0.78},{"x":3.5,"y":3.52,"core":0.26,"halo":0.46,"fringe":0.66},{"x":3.66,"y":3.66,"core":0.16,"halo":0.34,"fringe":0.5},{"x":3.72,"y":3.7,"core":0.06,"halo":0.2,"fringe":0.34}]},"layer":[{"mark":{"type":"trail","color":"#8f8f8f","opacity":0.12},"encoding":{"x":{"field":"x","type":"quantitative"},"y":{"field":"y","type":"quantitative"},"size":{"field":"fringe","type":"quantitative","scale":{"domain":[0,1],"range":[0,100]},"legend":null}}},{"mark":{"type":"trail","color":"#8f8f8f","opacity":0.28},"encoding":{"x":{"field":"x","type":"quantitative"},"y":{"field":"y","type":"quantitative"},"size":{"field":"halo","type":"quantitative","scale":{"domain":[0,1],"range":[0,100]},"legend":null}}},{"mark":{"type":"trail","color":"#8f8f8f"},"encoding":{"x":{"field":"x","type":"quantitative"},"y":{"field":"y","type":"quantitative"},"size":{"field":"core","type":"quantitative","scale":{"domain":[0,1],"range":[0,100]},"legend":null}}}]},
{"data":{"values":[{"x":1.82,"y":5.73,"label":"R4","kind":"gate"},{"x":2.25,"y":5.76,"label":"0%","kind":"share"},{"x":4.96,"y":5.76,"label":"5.08%","kind":"share"},{"x":5.7,"y":5.73,"label":"R3","kind":"gate"},{"x":1.82,"y":1.8,"label":"R1","kind":"gate"},{"x":2.52,"y":1.77,"label":"93.4%","kind":"share"},{"x":4.94,"y":1.78,"label":"1.28%","kind":"share"},{"x":5.7,"y":1.8,"label":"R2","kind":"gate"}]},"mark":{"type":"text","fontSize":33},"encoding":{"x":{"field":"x","type":"quantitative"},"y":{"field":"y","type":"quantitative"},"text":{"field":"label"},"color":{"field":"kind","type":"nominal","scale":{"domain":["gate","share"],"range":["#c6c6c6","#5a5a5a"]},"legend":null}}},
{"mark":{"type":"rule","stroke":"#555","strokeWidth":3},"encoding":{"x":{"datum":0.01},"y":{"datum":0.383},"y2":{"datum":6.5}}},
{"mark":{"type":"rule","stroke":"#555","strokeWidth":3},"encoding":{"x":{"datum":0.01},"x2":{"datum":19.12},"y":{"datum":0.383}}},
{"mark":{"type":"point","shape":"M0,-1L-0.5,1L0.5,1Z","filled":true,"size":1156,"color":"#555","opacity":1},"encoding":{"x":{"datum":0.01},"y":{"datum":6.5}}},
{"mark":{"type":"point","shape":"M1,0L-1,-0.5L-1,0.5Z","filled":true,"size":1156,"color":"#555","opacity":1},"encoding":{"x":{"datum":19.12},"y":{"datum":0.383}}},
{"mark":{"type":"text","text":"D","fontSize":45,"color":"#444"},"encoding":{"x":{"datum":-0.51},"y":{"datum":6.62}}},
{"mark":{"type":"text","text":"PI","fontSize":31,"color":"#555"},"encoding":{"x":{"datum":-0.55},"y":{"datum":3.83}}},
{"mark":{"type":"text","text":"Annexin V","fontSize":33,"color":"#555"},"encoding":{"x":{"datum":9.99},"y":{"datum":-0.06}}},
{"mark":{"type":"text","text":"Mock","fontSize":33,"color":"#555"},"encoding":{"x":{"datum":3.72},"y":{"datum":6.35}}}
]},
{"width":625,"height":595,"data":{"values":[{"annotation":"NC"}]},"resolve":{"scale":{"color":"independent","size":"independent"}},"layer":[
{"data":{"values":[{"x":1.57,"y":1.57,"xEnd":1.57,"yEnd":5,"region":"R1"},{"x":1.57,"y":1.57,"xEnd":3.99,"yEnd":1.57,"region":"R1"},{"x":1.57,"y":5,"xEnd":3.31,"yEnd":5,"region":"R1"},{"x":3.99,"y":1.57,"xEnd":3.99,"yEnd":5,"region":"R1"},{"x":6,"y":1.57,"xEnd":6,"yEnd":5,"region":"R2"},{"x":3.99,"y":1.57,"xEnd":6,"yEnd":1.57,"region":"R2"},{"x":3.99,"y":5,"xEnd":6,"yEnd":5,"region":"R3"},{"x":3.31,"y":6,"xEnd":6,"yEnd":6,"region":"R2"},{"x":6,"y":5,"xEnd":6,"yEnd":6,"region":"R2"},{"x":3.31,"y":5,"xEnd":3.99,"yEnd":5,"region":"R3"},{"x":1.57,"y":6,"xEnd":3.31,"yEnd":6,"region":"R2"},{"x":1.57,"y":5,"xEnd":1.57,"yEnd":6,"region":"R4"},{"x":3.31,"y":5,"xEnd":3.31,"yEnd":6,"region":"R4"}]},"mark":{"type":"rule","strokeWidth":2.5},"encoding":{"x":{"field":"x","type":"quantitative","scale":{"domain":[1.57,6],"range":[-1,454],"nice":false,"zero":false},"axis":{"labelOverlap":false,"tickCount":200,"values":[1.57,2,2.3,2.48,2.6,2.7,2.78,2.85,2.9,2.95,3,3.3,3.48,3.6,3.7,3.78,3.85,3.9,3.95,4,4.3,4.48,4.6,4.7,4.78,4.85,4.9,4.95,5,5.3,5.48,5.6,5.7,5.78,5.85,5.9,5.95,6],"labelExpr":"datum.value==1.57?'0':datum.value==2?'100':datum.value==3?'1e3':datum.value==4?'1e4':datum.value==5?'1e5':datum.value==6?'1e6':''","tickSize":{"condition":{"test":"datum.value%1==0||datum.value==1.57","value":8},"value":4},"tickColor":"#888","tickWidth":1.5,"domain":false,"labelFontSize":33,"labelColor":"#555","labelPadding":8,"title":"Intensity_MC_Ch02","titleFontSize":33.5,"titleFontWeight":"normal","titleColor":"#666","titleX":216,"titleY":69,"titleAlign":"center","titleBaseline":"middle"}},"y":{"field":"y","type":"quantitative","scale":{"domain":[1.57,6],"range":[595,158],"nice":false,"zero":false},"axis":{"labelOverlap":false,"tickCount":200,"values":[1.57,2,2.3,2.48,2.6,2.7,2.78,2.85,2.9,2.95,3,3.3,3.48,3.6,3.7,3.78,3.85,3.9,3.95,4,4.3,4.48,4.6,4.7,4.78,4.85,4.9,4.95,5,5.3,5.48,5.6,5.7,5.78,5.85,5.9,5.95,6],"labelExpr":"datum.value==1.57?'0':datum.value==2?'100':datum.value==3?'1e3':datum.value==4?'1e4':datum.value==5?'1e5':datum.value==6?'1e6':''","tickSize":{"condition":{"test":"datum.value%1==0||datum.value==1.57","value":10},"value":3},"tickColor":"#888","tickWidth":1.5,"domain":false,"labelFontSize":33,"labelColor":"#555","labelPadding":14,"title":"Intensity_MC_Ch04","titleFontSize":33.5,"titleFontWeight":"normal","titleColor":"#666","titleX":-106,"titleY":397,"titleAlign":"center","titleBaseline":"middle","titleAngle":270}},"x2":{"field":"xEnd"},"y2":{"field":"yEnd"},"color":{"field":"region","type":"nominal","scale":{"domain":["R1","R2","R3","R4"],"range":["#8c8c8c","#a8a8a8","#dadada","#b5b5b5"]},"legend":null}}},
{"data":{"values":[{"x":4.02,"y":5.03,"band":0.06},{"x":4.28,"y":5.26,"band":0.12},{"x":4.55,"y":5.52,"band":0.08}]},"mark":{"type":"trail","color":"#ebebeb"},"encoding":{"x":{"field":"x","type":"quantitative"},"y":{"field":"y","type":"quantitative"},"size":{"field":"band","type":"quantitative","scale":{"domain":[0,1],"range":[0,100]},"legend":null}}},
{"data":{"values":[{"x":4.65,"y":5.25},{"x":4.7,"y":5.45},{"x":4.78,"y":5.2},{"x":4.85,"y":5.5},{"x":4.95,"y":5.22},{"x":5.0,"y":5.4},{"x":5.08,"y":5.2},{"x":5.1,"y":5.5},{"x":5.12,"y":5.22},{"x":5.2,"y":5.45},{"x":5.3,"y":5.25},{"x":5.35,"y":5.55},{"x":5.45,"y":5.3},{"x":5.6,"y":5.45},{"x":5.75,"y":5.35}]},"mark":{"type":"point","filled":true,"size":18,"color":"#e2e2e2","opacity":1},"encoding":{"x":{"field":"x","type":"quantitative"},"y":{"field":"y","type":"quantitative"}}},
{"data":{"values":[{"x":1.7,"y":2.2},{"x":1.75,"y":2.55},{"x":1.9,"y":2.05},{"x":1.85,"y":2.4},{"x":1.95,"y":2.3},{"x":2.0,"y":2.85},{"x":2.05,"y":2.5},{"x":2.1,"y":2.05},{"x":2.15,"y":2.65},{"x":2.2,"y":2.4},{"x":2.25,"y":2.8},{"x":2.3,"y":2.55},{"x":2.35,"y":2.3},{"x":2.38,"y":2.75},{"x":2.42,"y":2.45},{"x":2.45,"y":2.85},{"x":2.5,"y":2.6},{"x":2.55,"y":2.2},{"x":2.55,"y":3.05},{"x":2.6,"y":2.45},{"x":2.65,"y":2.7},{"x":2.7,"y":3.3},{"x":2.75,"y":2.3},{"x":2.8,"y":2.55},{"x":2.85,"y":3.25},{"x":2.9,"y":2.4},{"x":2.92,"y":3.55},{"x":3.0,"y":2.6},{"x":3.05,"y":3.75},{"x":3.1,"y":3.55},{"x":3.15,"y":2.85},{"x":3.3,"y":4.1},{"x":3.32,"y":4.13},{"x":3.35,"y":3.75},{"x":3.4,"y":3.0},{"x":3.45,"y":4.05},{"x":3.5,"y":3.85},{"x":3.55,"y":4.2},{"x":3.6,"y":3.1},{"x":3.6,"y":4.5},{"x":3.65,"y":4.35},{"x":3.7,"y":3.95},{"x":3.75,"y":4.6},{"x":3.75,"y":3.2},{"x":3.8,"y":4.3},{"x":3.85,"y":4.65},{"x":3.85,"y":3.9},{"x":3.9,"y":4.2},{"x":3.95,"y":4.85},{"x":3.97,"y":3.4},{"x":3.98,"y":4.6},{"x":4.02,"y":3.55},{"x":4.05,"y":4.95},{"x":4.1,"y":3.7},{"x":4.1,"y":4.35},{"x":4.2,"y":3.85},{"x":4.3,"y":4.2},{"x":4.35,"y":3.6},{"x":4.45,"y":4.45},{"x":4.5,"y":3.75},{"x":4.55,"y":4.65},{"x":4.6,"y":4.15},{"x":4.75,"y":4.35},{"x":4.8,"y":3.95},{"x":4.85,"y":4.8},{"x":5.0,"y":4.5},{"x":5.0,"y":3.98},{"x":5.1,"y":4.6},{"x":5.2,"y":4.9},{"x":5.25,"y":4.7},{"x":5.4,"y":4.85},{"x":5.55,"y":4.9},{"x":2.6,"y":2.58},{"x":2.66,"y":2.95},{"x":2.74,"y":2.62},{"x":2.8,"y":3.08},{"x":2.86,"y":2.66},{"x":2.92,"y":3.2},{"x":2.98,"y":2.76},{"x":3.04,"y":3.32},{"x":3.1,"y":2.85},{"x":3.16,"y":3.42},{"x":3.22,"y":2.94},{"x":3.28,"y":3.5},{"x":3.34,"y":3.04},{"x":3.4,"y":3.6},{"x":3.46,"y":3.12},{"x":3.52,"y":3.66},{"x":3.58,"y":3.2},{"x":3.64,"y":3.74},{"x":3.68,"y":3.3},{"x":3.74,"y":3.44},{"x":3.78,"y":3.72},{"x":3.82,"y":3.5},{"x":3.86,"y":3.62},{"x":3.9,"y":3.78},{"x":3.94,"y":3.55},{"x":3.92,"y":3.42},{"x":2.5,"y":2.82},{"x":2.54,"y":2.7},{"x":2.48,"y":2.62},{"x":2.95,"y":2.52}]},"mark":{"type":"point","filled":true,"size":9,"color":"#9a9a9a","opacity":1},"encoding":{"x":{"field":"x","type":"quantitative"},"y":{"field":"y","type":"quantitative"}}},
{"data":{"values":[{"x":2.68,"y":2.84,"core":0.16,"halo":0.36,"fringe":0.52},{"x":2.8,"y":2.9,"core":0.28,"halo":0.5,"fringe":0.7},{"x":3,"y":3.07,"core":0.38,"halo":0.58,"fringe":0.82},{"x":3.25,"y":3.28,"core":0.36,"halo":0.58,"fringe":0.82},{"x":3.5,"y":3.47,"core":0.28,"halo":0.5,"fringe":0.7},{"x":3.68,"y":3.6,"core":0.16,"halo":0.36,"fringe":0.52},{"x":3.76,"y":3.66,"core":0.05,"halo":0.2,"fringe":0.34}]},"layer":[{"mark":{"type":"trail","color":"#8f8f8f","opacity":0.12},"encoding":{"x":{"field":"x","type":"quantitative"},"y":{"field":"y","type":"quantitative"},"size":{"field":"fringe","type":"quantitative","scale":{"domain":[0,1],"range":[0,100]},"legend":null}}},{"mark":{"type":"trail","color":"#8f8f8f","opacity":0.28},"encoding":{"x":{"field":"x","type":"quantitative"},"y":{"field":"y","type":"quantitative"},"size":{"field":"halo","type":"quantitative","scale":{"domain":[0,1],"range":[0,100]},"legend":null}}},{"mark":{"type":"trail","color":"#8f8f8f"},"encoding":{"x":{"field":"x","type":"quantitative"},"y":{"field":"y","type":"quantitative"},"size":{"field":"core","type":"quantitative","scale":{"domain":[0,1],"range":[0,100]},"legend":null}}}]},
{"data":{"values":[{"x":1.85,"y":5.73,"label":"R4","kind":"gate"},{"x":2.39,"y":5.75,"label":"0%","kind":"share"},{"x":4.94,"y":5.76,"label":"6.48%","kind":"share"},{"x":5.72,"y":5.73,"label":"R3","kind":"gate"},{"x":1.83,"y":1.79,"label":"R1","kind":"gate"},{"x":2.52,"y":1.75,"label":"92.2%","kind":"share"},{"x":4.96,"y":1.75,"label":"1.07%","kind":"share"},{"x":5.68,"y":1.81,"label":"R2","kind":"gate"}]},"mark":{"type":"text","fontSize":33},"encoding":{"x":{"field":"x","type":"quantitative"},"y":{"field":"y","type":"quantitative"},"text":{"field":"label"},"color":{"field":"kind","type":"nominal","scale":{"domain":["gate","share"],"range":["#c6c6c6","#5a5a5a"]},"legend":null}}},
{"mark":{"type":"text","text":"NC","fontSize":33,"color":"#555"},"encoding":{"x":{"datum":4.0},"y":{"datum":6.35}}}
]},
{"width":500,"height":595,"data":{"values":[{"annotation":"si-AKT3"}]},"resolve":{"scale":{"color":"independent","size":"independent"}},"layer":[
{"data":{"values":[{"x":1.57,"y":1.57,"xEnd":1.57,"yEnd":4.98,"region":"R1"},{"x":1.57,"y":1.57,"xEnd":3.93,"yEnd":1.57,"region":"R1"},{"x":1.57,"y":4.98,"xEnd":3.31,"yEnd":4.98,"region":"R1"},{"x":3.93,"y":1.57,"xEnd":3.93,"yEnd":5,"region":"R1"},{"x":6,"y":1.57,"xEnd":6,"yEnd":5,"region":"R2"},{"x":3.93,"y":1.57,"xEnd":6,"yEnd":1.57,"region":"R2"},{"x":3.93,"y":5,"xEnd":6,"yEnd":5,"region":"R2"},{"x":3.31,"y":6,"xEnd":6,"yEnd":6,"region":"R2"},{"x":6,"y":5,"xEnd":6,"yEnd":6,"region":"R3"},{"x":1.57,"y":6,"xEnd":3.31,"yEnd":6,"region":"R2"},{"x":1.57,"y":4.98,"xEnd":1.57,"yEnd":6,"region":"R4"},{"x":3.31,"y":4.98,"xEnd":3.31,"yEnd":6,"region":"R4"}]},"mark":{"type":"rule","strokeWidth":2.5},"encoding":{"x":{"field":"x","type":"quantitative","scale":{"domain":[1.57,6],"range":[-2,444],"nice":false,"zero":false},"axis":{"labelOverlap":false,"tickCount":200,"values":[1.57,2,2.3,2.48,2.6,2.7,2.78,2.85,2.9,2.95,3,3.3,3.48,3.6,3.7,3.78,3.85,3.9,3.95,4,4.3,4.48,4.6,4.7,4.78,4.85,4.9,4.95,5,5.3,5.48,5.6,5.7,5.78,5.85,5.9,5.95,6],"labelExpr":"datum.value==1.57?'0':datum.value==2?'100':datum.value==3?'1e3':datum.value==4?'1e4':datum.value==5?'1e5':datum.value==6?'1e6':''","tickSize":{"condition":{"test":"datum.value%1==0||datum.value==1.57","value":8},"value":4},"tickColor":"#888","tickWidth":1.5,"domain":false,"labelFontSize":33,"labelColor":"#555","labelPadding":8,"title":"Intensity_MC_Ch02","titleFontSize":33.5,"titleFontWeight":"normal","titleColor":"#666","titleX":217,"titleY":69,"titleAlign":"center","titleBaseline":"middle"}},"y":{"field":"y","type":"quantitative","scale":{"domain":[1.57,6],"range":[594,162.6],"nice":false,"zero":false},"axis":{"labelOverlap":false,"tickCount":200,"values":[1.57,2,2.3,2.48,2.6,2.7,2.78,2.85,2.9,2.95,3,3.3,3.48,3.6,3.7,3.78,3.85,3.9,3.95,4,4.3,4.48,4.6,4.7,4.78,4.85,4.9,4.95,5,5.3,5.48,5.6,5.7,5.78,5.85,5.9,5.95,6],"labelExpr":"datum.value==1.57?'0':datum.value==2?'100':datum.value==3?'1e3':datum.value==4?'1e4':datum.value==5?'1e5':datum.value==6?'1e6':''","tickSize":{"condition":{"test":"datum.value%1==0||datum.value==1.57","value":10},"value":3},"tickColor":"#888","tickWidth":1.5,"domain":false,"labelFontSize":33,"labelColor":"#555","labelPadding":6,"title":"Intensity_MC_Ch04","titleFontSize":33.5,"titleFontWeight":"normal","titleColor":"#666","titleX":-96,"titleY":398,"titleAlign":"center","titleBaseline":"middle","titleAngle":270}},"x2":{"field":"xEnd"},"y2":{"field":"yEnd"},"color":{"field":"region","type":"nominal","scale":{"domain":["R1","R2","R3","R4"],"range":["#8c8c8c","#a8a8a8","#dadada","#b5b5b5"]},"legend":null}}},
{"data":{"values":[{"x":3.45,"y":5.22,"band":0.3},{"x":4,"y":5.36,"band":0.5},{"x":5,"y":5.42,"band":0.55},{"x":5.8,"y":5.42,"band":0.4}]},"mark":{"type":"trail","color":"#f6f6f6"},"encoding":{"x":{"field":"x","type":"quantitative"},"y":{"field":"y","type":"quantitative"},"size":{"field":"band","type":"quantitative","scale":{"domain":[0,1],"range":[0,100]},"legend":null}}},
{"data":{"values":[{"x":3.4,"y":5.05},{"x":3.45,"y":5.3},{"x":3.5,"y":5.15},{"x":3.55,"y":5.4},{"x":3.6,"y":5.1},{"x":3.65,"y":5.35},{"x":3.7,"y":5.5},{"x":3.75,"y":5.2},{"x":3.78,"y":5.4},{"x":3.82,"y":5.05},{"x":3.85,"y":5.55},{"x":3.9,"y":5.3},{"x":3.95,"y":5.45},{"x":4.0,"y":5.15},{"x":4.05,"y":5.6},{"x":4.1,"y":5.35},{"x":4.15,"y":5.5},{"x":4.2,"y":5.25},{"x":4.25,"y":5.65},{"x":4.3,"y":5.4},{"x":4.35,"y":5.55},{"x":4.4,"y":5.2},{"x":4.45,"y":5.35},{"x":4.5,"y":5.62},{"x":4.55,"y":5.42},{"x":4.6,"y":5.28},{"x":4.65,"y":5.55},{"x":4.7,"y":5.35},{"x":4.75,"y":5.62},{"x":4.8,"y":5.2},{"x":4.85,"y":5.42},{"x":4.9,"y":5.3},{"x":4.95,"y":5.6},{"x":5.0,"y":5.35},{"x":5.05,"y":5.48},{"x":5.1,"y":5.25},{"x":5.15,"y":5.6},{"x":5.2,"y":5.35},{"x":5.25,"y":5.5},{"x":5.3,"y":5.2},{"x":5.35,"y":5.42},{"x":5.4,"y":5.58},{"x":5.45,"y":5.35},{"x":5.5,"y":5.5},{"x":5.55,"y":5.25},{"x":5.6,"y":5.45},{"x":5.65,"y":5.55},{"x":5.7,"y":5.3},{"x":5.75,"y":5.42},{"x":5.85,"y":5.2}]},"mark":{"type":"point","filled":true,"size":22,"color":"#e6e6e6","opacity":1},"encoding":{"x":{"field":"x","type":"quantitative"},"y":{"field":"y","type":"quantitative"}}},
{"data":{"values":[{"x":1.65,"y":2.75},{"x":1.75,"y":2.95},{"x":1.8,"y":2.5},{"x":1.9,"y":2.75},{"x":1.95,"y":2.3},{"x":2.0,"y":3.05},{"x":2.05,"y":2.6},{"x":2.1,"y":2.9},{"x":2.15,"y":2.4},{"x":2.2,"y":2.75},{"x":2.25,"y":2.15},{"x":2.3,"y":2.5},{"x":2.3,"y":3.0},{"x":2.35,"y":2.3},{"x":2.4,"y":3.2},{"x":2.45,"y":2.4},{"x":2.5,"y":2.2},{"x":2.5,"y":3.1},{"x":2.55,"y":2.5},{"x":2.6,"y":3.3},{"x":2.65,"y":2.3},{"x":2.7,"y":3.5},{"x":2.75,"y":2.05},{"x":2.75,"y":2.45},{"x":2.8,"y":3.25},{"x":2.85,"y":2.55},{"x":2.85,"y":1.95},{"x":2.9,"y":3.6},{"x":2.95,"y":2.4},{"x":3,"y":3.45},{"x":3.0,"y":2.6},{"x":3.05,"y":2.15},{"x":3.1,"y":3.7},{"x":3.15,"y":2.5},{"x":3.2,"y":3.35},{"x":3.2,"y":4.05},{"x":3.25,"y":2.7},{"x":3.3,"y":4.35},{"x":3.3,"y":3.6},{"x":3.35,"y":4.7},{"x":3.4,"y":2.8},{"x":3.4,"y":3.95},{"x":3.45,"y":4.4},{"x":3.5,"y":3.7},{"x":3.5,"y":2.6},{"x":3.55,"y":4.6},{"x":3.6,"y":4.15},{"x":3.6,"y":2.85},{"x":3.65,"y":4.85},{"x":3.7,"y":3.8},{"x":3.7,"y":2.5},{"x":3.72,"y":4.45},{"x":3.75,"y":4.95},{"x":3.78,"y":3.1},{"x":3.8,"y":4.25},{"x":3.82,"y":2.9},{"x":3.85,"y":4.7},{"x":3.88,"y":3.4},{"x":3.9,"y":2.6},{"x":3.9,"y":4.45},{"x":3.92,"y":3.15},{"x":3.95,"y":4.9},{"x":3.97,"y":3.6},{"x":4.0,"y":2.75},{"x":4.0,"y":4.2},{"x":4.05,"y":3.2},{"x":4.05,"y":3.7},{"x":4.1,"y":4.85},{"x":4.1,"y":2.05},{"x":4.15,"y":3.0},{"x":4.15,"y":3.45},{"x":4.2,"y":4.35},{"x":4.25,"y":3.85},{"x":4.25,"y":2.8},{"x":4.3,"y":3.3},{"x":4.3,"y":4.6},{"x":4.35,"y":2.95},{"x":4.4,"y":4.05},{"x":4.4,"y":3.5},{"x":4.45,"y":4.8},{"x":4.5,"y":3.15},{"x":4.5,"y":2.65},{"x":4.55,"y":3.8},{"x":4.55,"y":4.4},{"x":4.6,"y":3.35},{"x":4.65,"y":2.95},{"x":4.65,"y":4.15},{"x":4.7,"y":3.6},{"x":4.7,"y":4.7},{"x":4.75,"y":3.05},{"x":4.8,"y":4.3},{"x":4.85,"y":3.4},{"x":4.85,"y":3.85},{"x":4.9,"y":4.75},{"x":4.95,"y":3.2},{"x":5.0,"y":4.1},{"x":5.0,"y":4.55},{"x":5.05,"y":3.55},{"x":5.05,"y":2.75},{"x":5.1,"y":4.9},{"x":5.15,"y":3.95},{"x":5.2,"y":3.3},{"x":5.25,"y":4.45},{"x":5.3,"y":4.75},{"x":5.35,"y":3.75},{"x":5.4,"y":4.2},{"x":5.5,"y":4.6},{"x":5.55,"y":3.9},{"x":5.6,"y":4.85},{"x":5.65,"y":4.3},{"x":5.75,"y":4.7},{"x":5.85,"y":4.55},{"x":5.9,"y":4.9},{"x":2.2,"y":2.55},{"x":2.28,"y":2.82},{"x":2.36,"y":2.48},{"x":2.44,"y":2.95},{"x":2.48,"y":2.58},{"x":2.56,"y":3.02},{"x":2.62,"y":2.42},{"x":2.68,"y":3.12},{"x":2.78,"y":2.55},{"x":2.84,"y":3.2},{"x":2.92,"y":2.6},{"x":2.98,"y":3.3},{"x":3.06,"y":2.68},{"x":3.14,"y":3.38},{"x":3.22,"y":2.78},{"x":3.28,"y":3.46},{"x":3.36,"y":2.92},{"x":3.44,"y":3.55},{"x":3.5,"y":3.02},{"x":3.56,"y":3.6},{"x":3.62,"y":3.14},{"x":3.68,"y":3.62},{"x":3.74,"y":3.3},{"x":3.8,"y":3.55},{"x":3.86,"y":3.22},{"x":3.9,"y":3.5},{"x":3.95,"y":3.3},{"x":3.94,"y":3.02},{"x":4.02,"y":3.1},{"x":4.1,"y":3.25},{"x":4.18,"y":3.18},{"x":4.22,"y":2.92},{"x":4.32,"y":3.1},{"x":4.42,"y":3.25},{"x":4.46,"y":2.9}]},"mark":{"type":"point","filled":true,"size":9,"color":"#9a9a9a","opacity":1},"encoding":{"x":{"field":"x","type":"quantitative"},"y":{"field":"y","type":"quantitative"}}},
{"data":{"values":[{"x":2.55,"y":2.76,"core":0.2,"halo":0.5,"fringe":0.8},{"x":2.7,"y":2.85,"core":0.34,"halo":0.62,"fringe":1.0},{"x":2.95,"y":3.02,"core":0.42,"halo":0.7,"fringe":1.1},{"x":3.2,"y":3.2,"core":0.36,"halo":0.68,"fringe":1.1},{"x":3.42,"y":3.35,"core":0.26,"halo":0.56,"fringe":0.95},{"x":3.58,"y":3.45,"core":0.1,"halo":0.42,"fringe":0.75},{"x":3.75,"y":3.55,"core":0.02,"halo":0.25,"fringe":0.5}]},"layer":[{"mark":{"type":"trail","color":"#8f8f8f","opacity":0.12},"encoding":{"x":{"field":"x","type":"quantitative"},"y":{"field":"y","type":"quantitative"},"size":{"field":"fringe","type":"quantitative","scale":{"domain":[0,1],"range":[0,100],"clamp":false},"legend":null}}},{"mark":{"type":"trail","color":"#8f8f8f","opacity":0.28},"encoding":{"x":{"field":"x","type":"quantitative"},"y":{"field":"y","type":"quantitative"},"size":{"field":"halo","type":"quantitative","scale":{"domain":[0,1],"range":[0,100]},"legend":null}}},{"mark":{"type":"trail","color":"#8f8f8f"},"encoding":{"x":{"field":"x","type":"quantitative"},"y":{"field":"y","type":"quantitative"},"size":{"field":"core","type":"quantitative","scale":{"domain":[0,1],"range":[0,100]},"legend":null}}}]},
{"data":{"values":[{"x":1.82,"y":5.75,"label":"R4","kind":"gate"},{"x":2.52,"y":5.78,"label":"0.03%","kind":"share"},{"x":4.88,"y":5.79,"label":"11%","kind":"share"},{"x":5.7,"y":5.75,"label":"R3","kind":"gate"},{"x":1.85,"y":1.81,"label":"R1","kind":"gate"},{"x":2.6,"y":1.78,"label":"82.6%","kind":"share"},{"x":4.88,"y":1.78,"label":"5.06%","kind":"share"},{"x":5.69,"y":1.8,"label":"R2","kind":"gate"}]},"mark":{"type":"text","fontSize":33},"encoding":{"x":{"field":"x","type":"quantitative"},"y":{"field":"y","type":"quantitative"},"text":{"field":"label"},"color":{"field":"kind","type":"nominal","scale":{"domain":["gate","share"],"range":["#c6c6c6","#5a5a5a"]},"legend":null}}},
{"mark":{"type":"text","text":"si-AKT3","fontSize":33,"color":"#555"},"encoding":{"x":{"datum":3.6},"y":{"datum":6.41}}}
]}
]}
